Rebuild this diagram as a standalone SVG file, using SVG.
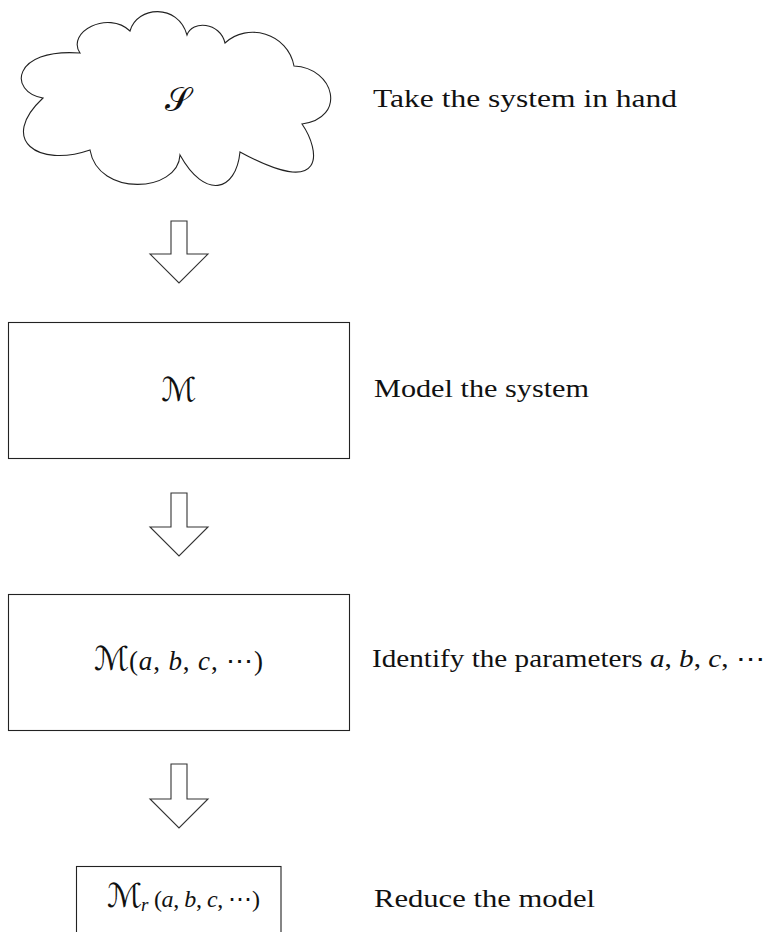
<svg xmlns="http://www.w3.org/2000/svg" width="779" height="932" viewBox="0 0 779 932">
  <style>
    .shape { fill: #fff; stroke: #222; stroke-width: 1.1; }
    .arrow { fill: #fff; stroke: #333; stroke-width: 1.1; stroke-linejoin: miter; }
    .label { font-family: "Liberation Serif", "DejaVu Serif", serif; font-size: 25px; fill: #111; }
    .math { font-family: "Liberation Serif", "DejaVu Serif", serif; font-size: 27px; fill: #111; }
    .math-sm { font-family: "Liberation Serif", "DejaVu Serif", serif; font-size: 24px; fill: #111; }
    .it { font-style: italic; }
    .cal { font-family: "DejaVu Sans", "Noto Sans", sans-serif; font-style: normal; font-size: 33px; fill: #111; }
    .sub { font-family: "Liberation Serif", "DejaVu Serif", serif; font-style: italic; font-size: 19px; fill: #111; }
  </style>
  <rect width="779" height="932" fill="#fff"/>

  <!-- the system: cloud -->
  <g id="system">
    <path class="shape" d="M80,53 C66,32 108,10 130,31 C137,6 178,3 187,35 C192,20 220,22 225,43 C247,22 288,33 294,66 C335,68 347,118 302,124 C320,150 328,200 240,152 C236,192 205,200 180,155 C178,193 98,197 90,150 C38,168 -2,140 43,98 C8,92 12,48 80,53 Z"/>
    <text class="cal" x="178" y="111" text-anchor="middle">𝒮</text>
  </g>
  <g id="label-system">
    <text class="label" x="373" y="107" textLength="304" lengthAdjust="spacingAndGlyphs">Take the system in hand</text>
  </g>

  <!-- the model -->
  <g id="model">
    <rect class="shape" x="8.5" y="322.5" width="341" height="136"/>
    <text class="cal" x="179" y="401" text-anchor="middle">ℳ</text>
  </g>
  <g id="label-model">
    <text class="label" x="374" y="397" textLength="215" lengthAdjust="spacingAndGlyphs">Model the system</text>
  </g>

  <!-- the parametrised model -->
  <g id="model-params">
    <rect class="shape" x="8.5" y="594.5" width="341" height="136"/>
    <text class="cal" x="94" y="670">ℳ</text>
    <text class="math" x="129" y="670" textLength="134" lengthAdjust="spacing">(<tspan class="it">a</tspan>, <tspan class="it">b</tspan>, <tspan class="it">c</tspan>, ⋯)</text>
  </g>
  <g id="label-params">
    <text class="label" x="372" y="667" textLength="393" lengthAdjust="spacingAndGlyphs">Identify the parameters <tspan class="it">a</tspan>, <tspan class="it">b</tspan>, <tspan class="it">c</tspan>, ⋯</text>
  </g>

  <!-- the reduced model -->
  <g id="model-reduced">
    <rect class="shape" x="76.5" y="866.5" width="204.5" height="80"/>
    <text class="cal" x="107" y="907">ℳ</text>
    <text class="sub" x="141" y="911">r</text>
    <text class="math-sm" x="154" y="907" textLength="106" lengthAdjust="spacing">(<tspan class="it">a</tspan>, <tspan class="it">b</tspan>, <tspan class="it">c</tspan>, ⋯)</text>
  </g>
  <g id="label-reduced">
    <text class="label" x="374" y="907" textLength="221" lengthAdjust="spacingAndGlyphs">Reduce the model</text>
  </g>

  <!-- block arrows between the steps -->
  <g id="connectors">
    <path class="arrow" d="M171,221 H187 V254 H208 L179,283 L150,254 H171 Z"/>
    <path class="arrow" d="M171,493 H187 V527 H208 L179,556 L150,527 H171 Z"/>
    <path class="arrow" d="M171,764 H187 V799 H208 L179,828 L150,799 H171 Z"/>
  </g>
</svg>
